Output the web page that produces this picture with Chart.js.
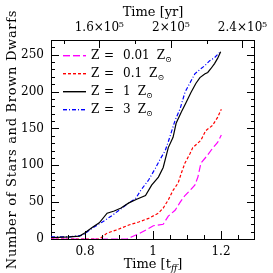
<!DOCTYPE html>
<html><head><meta charset="utf-8">
<script src="https://cdn.jsdelivr.net/npm/chart.js@4"></script>
<style>html,body{margin:0;padding:0;background:#fff;overflow:hidden}canvas{display:block}</style>
</head><body>
<canvas id="c" width="273" height="273"></canvas>
<script>
// ---- data (time in free-fall times, cumulative number of objects) ----
const tZ001 = [0.700, 0.923, 0.938, 0.958, 0.978, 1.001, 1.030, 1.045, 1.065, 1.080, 1.094, 1.109, 1.123, 1.132, 1.141, 1.161, 1.175, 1.190, 1.201];
const nZ001 = [0, 0, 3, 7, 12, 18, 20, 31, 39, 50, 59, 66, 73, 84, 103, 114, 123, 131, 141];

const tZ01 = [0.700, 0.842, 0.851, 0.865, 0.891, 0.929, 0.958, 0.987, 1.016, 1.030, 1.045, 1.059, 1.074, 1.083, 1.094, 1.109, 1.117, 1.141, 1.155, 1.175, 1.190, 1.201];
const nZ01 = [0, 0, 3, 8, 12, 19, 23, 28, 35, 42, 53, 66, 76, 89, 103, 116, 124, 134, 147, 154, 165, 176];

const tZ1 = [0.700, 0.755, 0.784, 0.799, 0.822, 0.842, 0.865, 0.886, 0.906, 0.929, 0.952, 0.978, 0.996, 1.016, 1.030, 1.045, 1.059, 1.068, 1.083, 1.097, 1.112, 1.126, 1.138, 1.152, 1.161, 1.170, 1.181, 1.190, 1.199];
const nZ1 = [2, 3, 4, 8, 16, 22, 35, 38, 42, 49, 54, 59, 73, 84, 97, 124, 138, 157, 172, 185, 199, 211, 219, 224, 226, 231, 238, 245, 254];

const tZ3 = [0.700, 0.755, 0.793, 0.822, 0.851, 0.880, 0.906, 0.929, 0.949, 0.964, 0.987, 1.007, 1.022, 1.036, 1.045, 1.054, 1.065, 1.080, 1.094, 1.109, 1.123, 1.138, 1.152, 1.167, 1.181, 1.196, 1.199];
const nZ3 = [3, 3, 5, 15, 23, 32, 41, 49, 55, 66, 80, 96, 109, 120, 132, 145, 161, 177, 199, 212, 224, 230, 235, 242, 246, 253, 255];

const seriesLabels = ['0.01', '0.1', '1', '3'];
const seriesColors = ['#ff00ff', '#ff0000', '#000000', '#0000ff'];
const seriesDashes = [[7, 3], [3, 2], [], [4, 2, 1, 2]];

// ---- axes / ticks ----
const xMin = 0.7, xMax = 1.3;
const yMin = 0, yMax = 270;
const tffYears = 1.9e5;
const xMajorTicks = [0.8, 1.0, 1.2];
const xTickLabels = ['0.8', '1', '1.2'];
const xMinorTicks = [0.75, 0.85, 0.9, 0.95, 1.05, 1.1, 1.15, 1.25];
const yMajorTicks = [0, 50, 100, 150, 200, 250];
const yTickLabels = ['0', '50', '100', '150', '200', '250'];
const yMinorTicks = [10, 20, 30, 40, 60, 70, 80, 90, 110, 120, 130, 140, 160, 170, 180, 190, 210, 220, 230, 240, 260];
const topMajorTicks = [1.6e5, 2.0e5, 2.4e5];
const topTickLabels = ['1.6×10⁵', '2×10⁵', '2.4×10⁵'];
const topMinorTicks = [1.4e5, 1.8e5, 2.2e5];

const FONT = '"DejaVu Serif", serif';

function pts(t, n) { return t.map((v, i) => ({ x: v, y: n[i] })); }

const seriesData = [pts(tZ001, nZ001), pts(tZ01, nZ01), pts(tZ1, nZ1), pts(tZ3, nZ3)];
const datasets = seriesData.map((d, i) => ({
  data: d, borderColor: seriesColors[i], borderDash: seriesDashes[i].slice(),
  showLine: true, pointRadius: 0, borderWidth: 1.2, tension: 0, fill: false, xAxisID: 'x', yAxisID: 'y'
}));

const tickPlugin = {
  id: 'inTicks',
  afterDatasetsDraw(chart) {
    const ctx = chart.ctx, a = chart.chartArea;
    const sx = chart.scales.x, sy = chart.scales.y, st = chart.scales.x2;
    ctx.save();
    ctx.strokeStyle = '#000'; ctx.lineWidth = 1; ctx.setLineDash([]);
    const L = 8, S = 4;
    function vt(px, len, top) {
      const x = Math.round(px) + 0.5;
      ctx.beginPath();
      if (top) { ctx.moveTo(x, a.top); ctx.lineTo(x, a.top + len); }
      else { ctx.moveTo(x, a.bottom); ctx.lineTo(x, a.bottom - len); }
      ctx.stroke();
    }
    function ht(py, len) {
      const y = Math.round(py) + 0.5;
      ctx.beginPath(); ctx.moveTo(a.left, y); ctx.lineTo(a.left + len, y); ctx.stroke();
      ctx.beginPath(); ctx.moveTo(a.right, y); ctx.lineTo(a.right - len, y); ctx.stroke();
    }
    xMajorTicks.forEach(v => vt(sx.getPixelForValue(v), L, false));
    xMinorTicks.forEach(v => vt(sx.getPixelForValue(v), S, false));
    topMajorTicks.forEach(v => vt(st.getPixelForValue(v), L, true));
    topMinorTicks.forEach(v => vt(st.getPixelForValue(v), S, true));
    yMajorTicks.forEach(v => ht(sy.getPixelForValue(v), L));
    yMinorTicks.forEach(v => ht(sy.getPixelForValue(v), S));
    ctx.restore();
  }
};

function legendSample(ctx, x0, x1, y, color, dash) {
  ctx.fillStyle = color;
  if (!dash.length) { ctx.fillRect(x0, y, x1 - x0, 1.4); return; }
  let x = x0, k = 0;
  while (x < x1) {
    const len = dash[k % dash.length];
    if (k % 2 === 0) ctx.fillRect(x, y, Math.min(len, x1 - x), 1.4);
    x += len; k++;
  }
}

const textPlugin = {
  id: 'texts',
  afterDraw(chart) {
    const ctx = chart.ctx, a = chart.chartArea;
    ctx.save();
    ctx.setLineDash([]);
    ctx.fillStyle = '#000';
    ctx.textBaseline = 'alphabetic';
    const cx = (a.left + a.right) / 2;
    // top title
    ctx.font = '13px ' + FONT; ctx.textAlign = 'center';
    ctx.fillText('Time [yr]', cx, 16);
    // bottom title with subscript
    ctx.textAlign = 'left';
    const p1 = 'Time [t', p3 = ']';
    ctx.font = '13px ' + FONT;
    const w1 = ctx.measureText(p1).width, w3 = ctx.measureText(p3).width;
    ctx.font = 'italic 9px ' + FONT;
    const w2 = ctx.measureText('ff').width;
    let x0 = cx - (w1 + w2 + w3) / 2;
    const by = 268;
    ctx.font = '13px ' + FONT; ctx.fillText(p1, x0, by);
    ctx.font = 'italic 9px ' + FONT; ctx.fillText('ff', x0 + w1, by + 3);
    ctx.font = '13px ' + FONT; ctx.fillText(p3, x0 + w1 + w2, by);
    // y title
    ctx.save();
    ctx.translate(16, (a.top + a.bottom) / 2);
    ctx.rotate(-Math.PI / 2);
    ctx.textAlign = 'center';
    ctx.font = '13px ' + FONT;
    try { ctx.letterSpacing = '0.7px'; } catch (e) {}
    ctx.fillText('Number of Stars and Brown Dwarfs', 0, 0);
    try { ctx.letterSpacing = '0px'; } catch (e) {}
    ctx.restore();
    // legend
    const rows = [55, 73, 91, 109];
    seriesLabels.forEach((lab, i) => {
      const y = rows[i];
      legendSample(ctx, 63, 86, y, seriesColors[i], seriesDashes[i]);
      ctx.fillStyle = '#000';
      ctx.font = '12px ' + FONT; ctx.textAlign = 'left';
      const ty = y + 4;
      ctx.fillText('Z', 91, ty);
      ctx.fillText('=', 104, ty);
      ctx.fillText(lab, 123, ty);
      const xe = 123 + ctx.measureText(lab).width + 7;
      ctx.fillText('Z', xe, ty);
      const zw = ctx.measureText('Z').width;
      ctx.font = '8px ' + FONT;
      ctx.fillText('⊙', xe + zw, ty + 3);
    });
    ctx.restore();
  }
};

const noGrid = { drawOnChartArea: false, drawTicks: false };
const border = { display: true, color: '#000', width: 1 };
const tickFont = { family: FONT, size: 12 };

new Chart(document.getElementById('c'), {
  type: 'scatter',
  data: { datasets },
  options: {
    responsive: false, animation: false, devicePixelRatio: 1,
    layout: { padding: 0 },
    plugins: { legend: { display: false }, tooltip: { enabled: false } },
    scales: {
      x: {
        type: 'linear', position: 'bottom', min: xMin, max: xMax,
        afterBuildTicks: s => { s.ticks = xMajorTicks.map(v => ({ value: v })); },
        afterFit: s => { s.height = 34; },
        ticks: { color: '#000', font: tickFont, padding: 6, maxRotation: 0, autoSkip: false,
          callback: (v, i) => xTickLabels[i] },
        grid: noGrid, border
      },
      x2: {
        type: 'linear', position: 'top', min: xMin * tffYears, max: xMax * tffYears,
        afterBuildTicks: s => { s.ticks = topMajorTicks.map(v => ({ value: v })); },
        afterFit: s => { s.height = 40; },
        ticks: { color: '#000', font: tickFont, padding: 5, maxRotation: 0, autoSkip: false,
          callback: (v, i) => topTickLabels[i] },
        grid: noGrid, border
      },
      y: {
        type: 'linear', position: 'left', min: yMin, max: yMax,
        afterBuildTicks: s => { s.ticks = yMajorTicks.map(v => ({ value: v })); },
        afterFit: s => { s.width = 51; },
        ticks: { color: '#000', font: tickFont, padding: 7, autoSkip: false,
          callback: (v, i) => yTickLabels[i] },
        grid: noGrid, border
      },
      y2: {
        type: 'linear', position: 'right', min: yMin, max: yMax,
        afterFit: s => { s.width = 15; },
        ticks: { display: false },
        grid: noGrid, border
      }
    }
  },
  plugins: [tickPlugin, textPlugin]
});
</script>
</body></html>
